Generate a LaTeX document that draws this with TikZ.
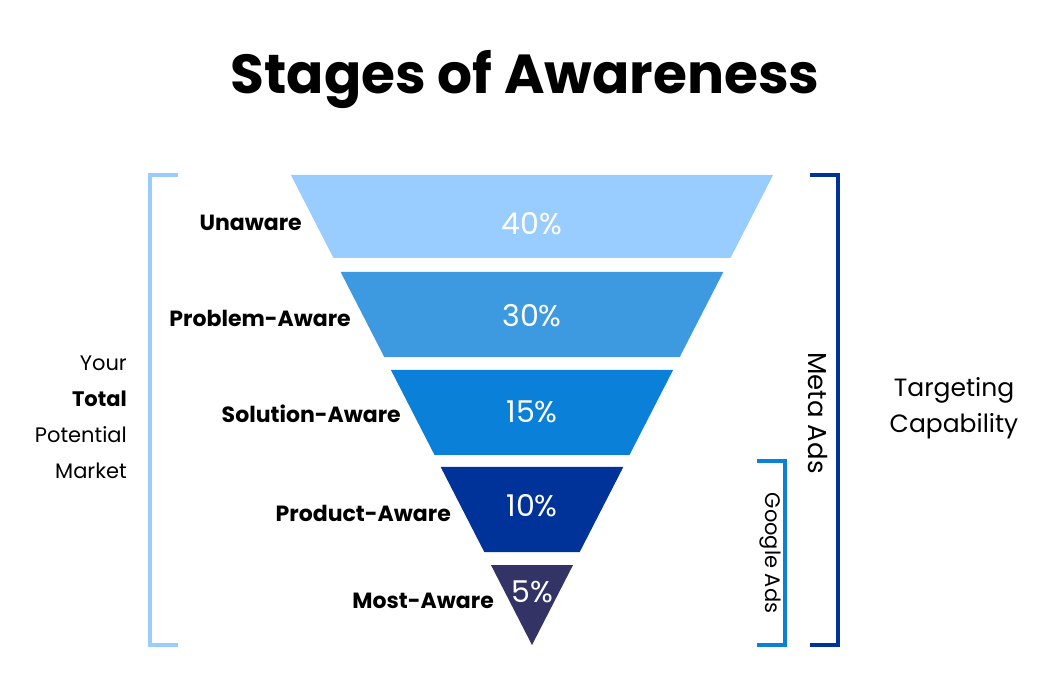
\documentclass[tikz,border=0pt]{standalone}
\usepackage{fontspec}
\setmainfont{Poppins}
\begin{document}
\begin{tikzpicture}[x=1pt,y=-1pt,
  lab/.style={font=\fontsize{22}{26}\selectfont\bfseries,anchor=east,inner sep=0},
  pct/.style={font=\fontsize{30}{32}\selectfont,text=white,inner sep=0},
  side/.style={font=\fontsize{21}{36}\selectfont,align=right,inner sep=0}]
\definecolor{c1}{HTML}{99CCFF}\definecolor{c2}{HTML}{3D9AE0}
\definecolor{c3}{HTML}{0A80D8}\definecolor{c4}{HTML}{00339A}
\definecolor{c5}{HTML}{333366}\definecolor{lb}{HTML}{99CCFF}
\definecolor{mb}{HTML}{0A80D8}\definecolor{db}{HTML}{00339A}
\useasboundingbox (0,0) rectangle (1050,700);
\foreach \t/\b/\c in {175/258/c1,272/357/c2,370/455/c3,467/552/c4}{
  \fill[\c] ({532-0.513*(645-\t)},\t) -- ({532+0.513*(645-\t)},\t) -- ({532+0.513*(645-\b)},\b) -- ({532-0.513*(645-\b)},\b) -- cycle;}
\fill[c5] ({532-0.513*80},565) -- ({532+0.513*80},565) -- (532,645) -- cycle;
\node[font=\fontsize{55}{60}\selectfont\bfseries] (title) at (525,80) {Stages of Awareness};
\node[pct] (p1) at (532,224) {40\%};
\node[pct] (p2) at (532,316) {30\%};
\node[pct] (p3) at (532,412) {15\%};
\node[pct] (p4) at (532,506) {10\%};
\node[pct] (p5) at (532,592) {5\%};
\node[lab] (l1) at (302,223) {Unaware};
\node[lab] (l2) at (351,318) {Problem-Aware};
\node[lab] (l3) at (401,414) {Solution-Aware};
\node[lab] (l4) at (451,513) {Product-Aware};
\node[lab] (l5) at (494,601) {Most-Aware};
\draw[lb,line width=3.5pt] (178,175) -- (150,175) -- (150,645) -- (178,645);
\draw[db,line width=3.5pt] (810,175) -- (838,175) -- (838,645) -- (810,645);
\draw[mb,line width=3.5pt] (757,461) -- (785,461) -- (785,645) -- (757,645);
\node[side,anchor=east] (tpm) at (127,417) {Your\\\textbf{Total}\\Potential\\Market};
\node[font=\fontsize{26}{30}\selectfont,rotate=-90,inner sep=0] (meta) at (818,413) {Meta Ads};
\node[font=\fontsize{21}{24}\selectfont,rotate=-90,inner sep=0] (goog) at (770,553) {Google Ads};
\node[font=\fontsize{25}{36}\selectfont,align=center,inner sep=0] (tc) at (954,408) {Targeting\\Capability};
\end{tikzpicture}
\end{document}
